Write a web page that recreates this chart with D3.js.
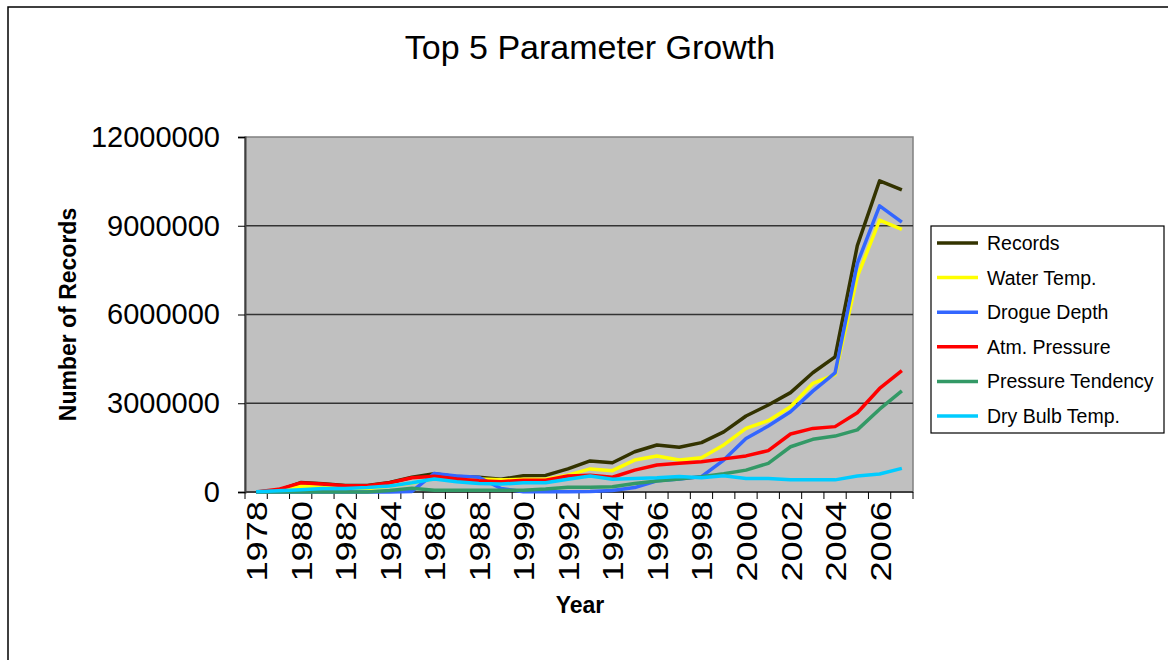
<!DOCTYPE html>
<html>
<head>
<meta charset="utf-8">
<script src="https://cdn.jsdelivr.net/npm/d3@7"></script>
<style>
  body { margin: 0; background: #fff; }
  svg { font-family: "Liberation Sans", Arial, sans-serif; }
</style>
</head>
<body>
<div id="chart"></div>
<script>
// Years on the x axis
const years = d3.range(1978, 2008);

// Values (number of records)
const records      = [0, 50000, 320000, 280000, 220000, 220000, 320000, 500000, 620000, 520000, 500000, 430000, 550000, 560000, 780000, 1050000, 990000, 1360000, 1590000, 1510000, 1670000, 2030000, 2570000, 2940000, 3360000, 4030000, 4570000, 8330000, 10520000, 10210000];
const waterTemp    = [0, 20000, 200000, 150000, 120000, 120000, 200000, 300000, 450000, 400000, 440000, 410000, 430000, 430000, 570000, 780000, 720000, 1080000, 1220000, 1080000, 1160000, 1590000, 2150000, 2410000, 2880000, 3670000, 3970000, 7280000, 9190000, 8880000];
const drogueDepth  = [0, 0, 0, 0, 0, 0, 0, 20000, 630000, 540000, 500000, 120000, 10000, 10000, 10000, 20000, 50000, 150000, 380000, 440000, 520000, 1080000, 1810000, 2230000, 2710000, 3410000, 4030000, 7730000, 9670000, 9120000];
const atmPressure  = [0, 90000, 310000, 270000, 210000, 210000, 310000, 480000, 530000, 440000, 380000, 350000, 400000, 400000, 540000, 570000, 500000, 740000, 910000, 970000, 1020000, 1120000, 1220000, 1400000, 1960000, 2150000, 2210000, 2680000, 3500000, 4100000];
const pressureTend = [0, 0, 0, 0, 0, 0, 50000, 130000, 60000, 60000, 60000, 60000, 60000, 100000, 160000, 160000, 180000, 290000, 370000, 440000, 520000, 620000, 740000, 970000, 1530000, 1780000, 1890000, 2100000, 2800000, 3420000];
const dryBulb      = [10000, 40000, 80000, 120000, 120000, 150000, 200000, 310000, 440000, 350000, 290000, 270000, 310000, 310000, 430000, 540000, 430000, 460000, 480000, 520000, 480000, 550000, 460000, 460000, 410000, 410000, 410000, 540000, 610000, 800000];

const seriesNames  = ["Records", "Water Temp.", "Drogue Depth", "Atm. Pressure", "Pressure Tendency", "Dry Bulb Temp."];
const seriesValues = [records, waterTemp, drogueDepth, atmPressure, pressureTend, dryBulb];
const seriesColors = ["#333300", "#ffff00", "#3366ff", "#ff0000", "#339966", "#00ccff"];

const yTicks = [0, 3000000, 6000000, 9000000, 12000000];

const width = 1168, height = 660;
const plot = { left: 245, top: 137, right: 913, bottom: 492 };

const svg = d3.select("#chart")
    .append("svg")
    .attr("width", width)
    .attr("height", height);

// outer chart border (runs off the right and bottom edges)
svg.append("rect")
    .attr("x", 8).attr("y", 7)
    .attr("width", width + 20).attr("height", height + 20)
    .attr("fill", "#fff")
    .attr("stroke", "#000")
    .attr("stroke-width", 1.5);

// Title
svg.append("text")
    .attr("x", 590).attr("y", 59)
    .attr("text-anchor", "middle")
    .style("font-size", "34px")
    .text("Top 5 Parameter Growth");

const x = d3.scaleBand()
    .domain(years)
    .range([plot.left, plot.right]);

const y = d3.scaleLinear()
    .domain([0, 12000000])
    .range([plot.bottom, plot.top]);

// plot background
svg.append("rect")
    .attr("x", plot.left).attr("y", plot.top)
    .attr("width", plot.right - plot.left)
    .attr("height", plot.bottom - plot.top)
    .attr("fill", "#c0c0c0")
    .attr("stroke", "#808080")
    .attr("stroke-width", 1.5);

// gridlines
svg.append("g")
    .selectAll("line")
    .data(yTicks.slice(1, -1))
    .enter()
    .append("line")
    .attr("x1", plot.left).attr("x2", plot.right)
    .attr("y1", d => y(d)).attr("y2", d => y(d))
    .attr("stroke", "#333")
    .attr("stroke-width", 1.3);

// y axis
const yAxis = svg.append("g")
    .attr("transform", `translate(${plot.left},0)`)
    .call(d3.axisLeft(y).tickValues(yTicks).tickFormat(d3.format("d")).tickSize(7).tickPadding(18));
yAxis.select(".domain").attr("stroke", "#404040").attr("stroke-width", 2);
yAxis.selectAll(".tick line").attr("stroke", "#000");
yAxis.selectAll("text")
    .style("font-size", "29px")
    .style("font-family", "Liberation Sans, Arial, sans-serif")
    .attr("fill", "#000");

// x axis: ticks at category boundaries
const xAxisG = svg.append("g");
xAxisG.append("line")
    .attr("x1", plot.left).attr("x2", plot.right)
    .attr("y1", plot.bottom).attr("y2", plot.bottom)
    .attr("stroke", "#404040")
    .attr("stroke-width", 2);
xAxisG.selectAll("line.tick")
    .data(years.concat([2008]))
    .enter()
    .append("line")
    .attr("class", "tick")
    .attr("x1", d => d === 2008 ? plot.right : x(d))
    .attr("x2", d => d === 2008 ? plot.right : x(d))
    .attr("y1", plot.bottom).attr("y2", plot.bottom + 7)
    .attr("stroke", "#000");
xAxisG.selectAll("text")
    .data(years.filter(d => d % 2 === 0))
    .enter()
    .append("text")
    .attr("transform", d => `translate(${x(d) + x.bandwidth() / 2 + 11},${plot.bottom + 9}) rotate(-90) scale(1.25,1)`)
    .attr("text-anchor", "end")
    .style("font-size", "29px")
    .text(d => d);

// axis titles
svg.append("text")
    .attr("x", 580).attr("y", 613)
    .attr("text-anchor", "middle")
    .style("font-size", "23px")
    .style("font-weight", "bold")
    .text("Year");

svg.append("text")
    .attr("transform", `translate(76,${(plot.top + plot.bottom) / 2}) rotate(-90)`)
    .attr("text-anchor", "middle")
    .style("font-size", "23px")
    .style("font-weight", "bold")
    .text("Number of Records");

// lines
const line = d3.line()
    .x((d, i) => x(years[i]) + x.bandwidth() / 2)
    .y(d => y(d));

svg.append("g")
    .selectAll("path")
    .data(seriesValues)
    .enter()
    .append("path")
    .attr("d", d => line(d))
    .attr("fill", "none")
    .attr("stroke", (d, i) => seriesColors[i])
    .attr("stroke-width", 3.5)
    .attr("stroke-linejoin", "round");

// legend
const legend = svg.append("g");
legend.append("rect")
    .attr("x", 931).attr("y", 226)
    .attr("width", 233).attr("height", 207)
    .attr("fill", "#fff")
    .attr("stroke", "#000")
    .attr("stroke-width", 1.2);

const items = legend.selectAll("g.item")
    .data(seriesNames)
    .enter()
    .append("g")
    .attr("class", "item")
    .attr("transform", (d, i) => `translate(0,${243 + i * 34.6})`);
items.append("line")
    .attr("x1", 937).attr("x2", 978)
    .attr("stroke", (d, i) => seriesColors[i])
    .attr("stroke-width", 3.5);
items.append("text")
    .attr("x", 987).attr("y", 7)
    .style("font-size", "19.5px")
    .text(d => d);
</script>
</body>
</html>
